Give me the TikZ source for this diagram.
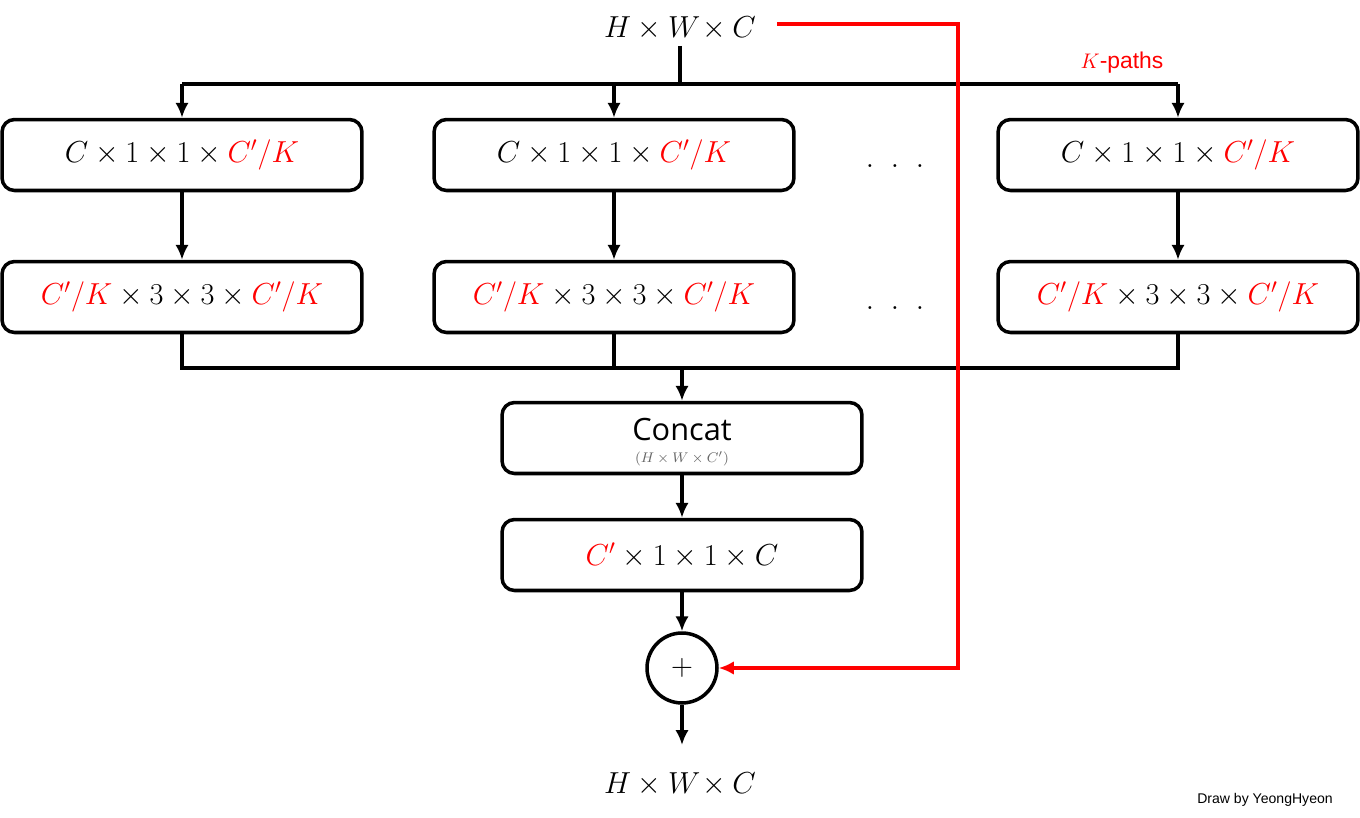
\documentclass[tikz,border=0pt]{standalone}
\usepackage{amsmath}
\usepackage{fontspec}
\usetikzlibrary{arrows.meta,positioning,calc}
\newfontfamily\labelfont{Liberation Sans}
\newfontfamily\boxfont{Open Sans}
\newcommand{\rd}[1]{\textcolor{red}{#1}}
\newcommand{\cpk}{\rd{C'/K}}

\tikzset{
  blk/.style={draw,line width=2pt,rounded corners=0.25cm,minimum width=7.2cm,
    minimum height=1.42cm,font=\fontsize{16.5}{19}\selectfont},
  link/.style={line width=2pt},
  arr/.style={link,-{Latex[length=0.3cm,width=0.27cm]}},
}

\begin{document}
\begin{tikzpicture}[x=0.02cm,y=-0.02cm]
\fill[white] (0,0) rectangle (1360,818);
\useasboundingbox (0,0) rectangle (1360,818);
% input and output
\node (in) at (680,28) [font=\fontsize{16.5}{19}\selectfont] {$H \times W\!\times C$};
\node (out) at (680,784) [font=\fontsize{16.5}{19}\selectfont] {$H \times W\!\times C$};
% K paths
\node (b11) at (182,155) [blk] {$C \times 1 \times 1 \times \cpk$};
\node (b12) at (614,155) [blk] {$C \times 1 \times 1 \times \cpk$};
\node (b13) at (1178,155) [blk] {$C \times 1 \times 1 \times \cpk$};
\node (b21) at (182,297) [blk] {$\cpk \times 3 \times 3 \times \cpk$};
\node (b22) at (614,297) [blk] {$\cpk \times 3 \times 3 \times \cpk$};
\node (b23) at (1178,297) [blk] {$\cpk \times 3 \times 3 \times \cpk$};
\node (dots1) at (895,166) [font=\fontsize{16.5}{19}\selectfont] {$.\;\;.\;\;.$};
\node (dots2) at (895,308) [font=\fontsize{16.5}{19}\selectfont] {$.\;\;.\;\;.$};
\node (kp) at (1122,63) [font=\labelfont\fontsize{13}{15}\selectfont,text=red] {$K$-paths};
% merge
\node (cat) at (682,438) [blk] {};
\node (catname) at (682,430) [font=\boxfont\fontsize{17.5}{19}\selectfont] {Concat};
\node (catdim) at (682,459) [font=\fontsize{8}{9}\selectfont,text=black!60] {$(H \times W \times C')$};
\node (conv) at (682,555) [blk] {$\rd{C'} \times 1 \times 1 \times C$};
\node (plus) at (682,668) [draw,circle,line width=2pt,minimum size=1.4cm,inner sep=0pt,
  font=\fontsize{16}{18}\selectfont] {$+$};
\node (sign) at (1265,800) [font=\labelfont\fontsize{8}{10}\selectfont] {Draw by YeongHyeon};
% split
\coordinate (fork) at (680,84);
\coordinate (fl) at (182,84);
\coordinate (fr) at (1178,84);
\draw[link] (in) -- (fork);
\draw[link] (fl) -- (fr);
\draw[arr] (fl) -- (b11);
\draw[arr] (fork -| b12) -- (b12);
\draw[arr] (fr) -- (b13);
\draw[arr] (b11) -- (b21);
\draw[arr] (b12) -- (b22);
\draw[arr] (b13) -- (b23);
% join
\coordinate (jl) at (182,368);
\coordinate (jr) at (1178,368);
\coordinate (join) at (682,368);
\draw[link] (b21) -- (jl) -- (jr) -- (b23);
\draw[link] (b22) -- (b22 |- join);
\draw[arr] (join) -- (cat);
\draw[arr] (cat) -- (conv);
\draw[arr] (conv) -- (plus);
\coordinate (outtip) at (682,745);
\draw[arr] (plus) -- (outtip);
% shortcut
\coordinate (skip) at (958,668);
\draw[red,line width=2pt,-{Latex[length=0.3cm,width=0.27cm]}]
  ([xshift=0.3cm,yshift=0.08cm]in.east) -| (skip) -- (plus);
\end{tikzpicture}
\end{document}
